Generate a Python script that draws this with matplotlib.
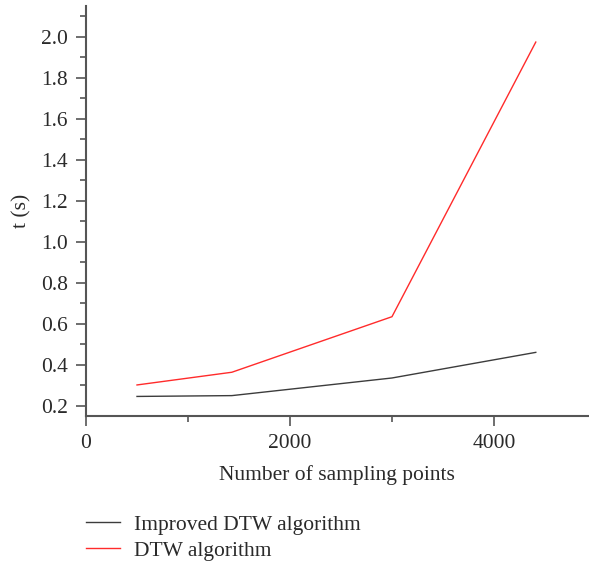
import matplotlib
matplotlib.use("Agg")
import matplotlib.pyplot as plt
from matplotlib.ticker import MultipleLocator

# Runtime vs. number of sampling points
sampling_points = [500, 1430, 3000, 4410]
t_improved = [0.245, 0.249, 0.335, 0.46]
t_dtw = [0.301, 0.363, 0.634, 1.974]

plt.rcParams['font.family'] = ['Liberation Serif', 'DejaVu Serif']
spine_color = '#555555'
text_color = '#2a2a2a'
fs = 15.5

fig = plt.figure(figsize=(5.89, 5.61), dpi=100)
ax = fig.add_axes([86 / 589, 1 - 415.7 / 561, (588 - 86) / 589, (415.7 - 6) / 561])

ax.plot(sampling_points, t_improved, color='#3c3c3c', linewidth=1.0, label='Improved DTW algorithm')
ax.plot(sampling_points, t_dtw, color='#ff2b2b', linewidth=1.0, label='DTW algorithm')

ax.set_xlim(0, 4922)
ax.set_ylim(0.151, 2.15)
ax.xaxis.set_major_locator(MultipleLocator(2000))
ax.xaxis.set_minor_locator(MultipleLocator(1000))
ax.yaxis.set_major_locator(MultipleLocator(0.2))
ax.yaxis.set_minor_locator(MultipleLocator(0.1))
ax.yaxis.set_major_formatter(plt.FuncFormatter(lambda v, _: f"{v:.1f}"))

for side in ('top', 'right'):
    ax.spines[side].set_visible(False)
for side in ('left', 'bottom'):
    ax.spines[side].set_color(spine_color)
    ax.spines[side].set_linewidth(1.5)

ax.tick_params(which='major', length=7, width=1.2, color=spine_color,
               labelsize=fs, labelcolor=text_color, pad=6)
ax.tick_params(which='minor', length=4, width=1.2, color=spine_color)

ax.set_xlabel('Number of sampling points', fontsize=fs, color=text_color, labelpad=9)
ax.set_ylabel('t (s)', fontsize=fs, color=text_color, labelpad=7)

fig.legend(loc='upper left', bbox_to_anchor=(77 / 589, 1 - 506 / 561), frameon=False,
           borderaxespad=0, fontsize=fs, handlelength=1.6, handletextpad=0.65,
           labelspacing=0.28, labelcolor=text_color)

fig.savefig('out.png', dpi=100)
